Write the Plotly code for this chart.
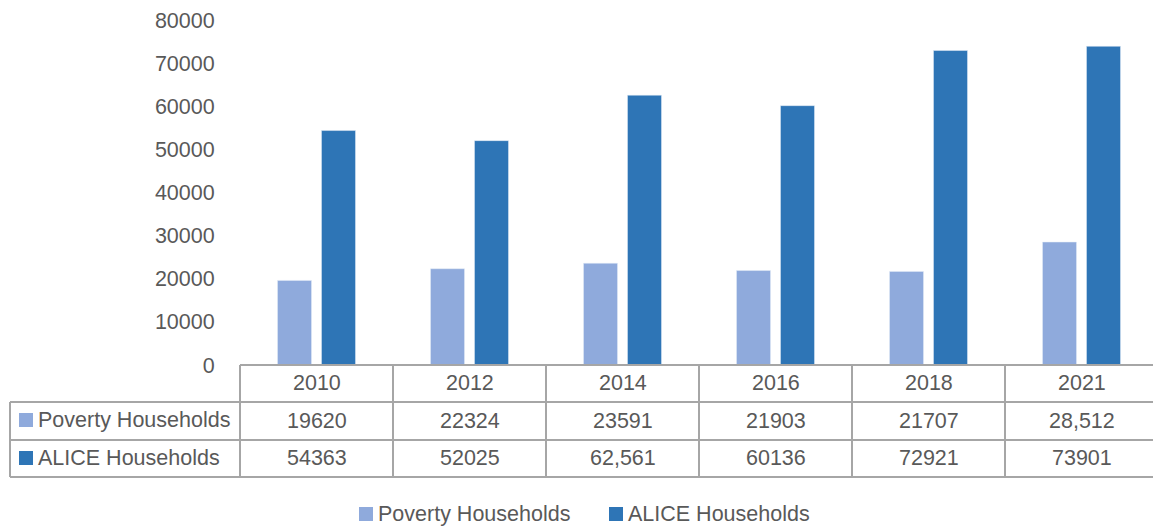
import plotly.graph_objects as go

years = ["2010", "2012", "2014", "2016", "2018", "2021"]
poverty = [19620, 22324, 23591, 21903, 21707, 28512]
alice = [54363, 52025, 62561, 60136, 72921, 73901]
poverty_labels = ["19620", "22324", "23591", "21903", "21707", "28,512"]
alice_labels = ["54363", "52025", "62,561", "60136", "72921", "73901"]
series_names = ["Poverty Households", "ALICE Households"]
colors = ["#8FAADC", "#2E75B6"]

W, H = 1153, 527
L, R, T, B = 240, 0, 20, 162
PW = W - L - R
PH = H - T - B
COLW = 153.0

def xp(px):
    return (px - L) / PW

def yp(py):
    return (H - B - py) / PH

FONT = "Liberation Sans, Arial, sans-serif"
TXT = "#595959"
GRID = "#A6A6A6"
FS = 21.5

fig = go.Figure()
fig.add_trace(go.Bar(x=years, y=poverty, name=series_names[0], marker_color=colors[0], showlegend=False))
fig.add_trace(go.Bar(x=years, y=alice, name=series_names[1], marker_color=colors[1], showlegend=False))

shapes = []
annotations = []

def hline(x0, x1, y):
    shapes.append(dict(type="line", xref="paper", yref="paper", x0=xp(x0), x1=xp(x1),
                       y0=yp(y), y1=yp(y), line=dict(color=GRID, width=2)))

def vline(x, y0, y1):
    shapes.append(dict(type="line", xref="paper", yref="paper", x0=xp(x), x1=xp(x),
                       y0=yp(y0), y1=yp(y1), line=dict(color=GRID, width=2)))

right = L + COLW * len(years)
hline(L, right, 365)
hline(10, right, 402)
hline(10, right, 440)
hline(10, right, 477)
vline(10, 402, 477)
for i in range(len(years) + 1):
    vline(L + COLW * i, 365, 477)

row_y = [383, 421, 458]
for i, yr in enumerate(years):
    for row, txt in ((0, yr), (1, poverty_labels[i]), (2, alice_labels[i])):
        annotations.append(dict(xref="x", yref="paper", x=i, y=yp(row_y[row]), text=txt,
                                showarrow=False, xanchor="center", yanchor="middle",
                                font=dict(family=FONT, size=FS, color=TXT)))

def swatch(x0, y0, color):
    shapes.append(dict(type="rect", xref="paper", yref="paper", x0=xp(x0), x1=xp(x0 + 14),
                       y0=yp(y0), y1=yp(y0 + 14), fillcolor=color, line=dict(width=0)))

def label(x, y, text):
    annotations.append(dict(xref="paper", yref="paper", x=xp(x), y=yp(y), text=text,
                            showarrow=False, xanchor="left", yanchor="middle",
                            font=dict(family=FONT, size=FS, color=TXT)))

# Table row headers
swatch(19, 413, colors[0]); label(36, 420, series_names[0])
swatch(19, 451, colors[1]); label(36, 458, series_names[1])

# Bottom legend
swatch(359, 507, colors[0]); label(376, 514, series_names[0])
swatch(609, 507, colors[1]); label(626, 514, series_names[1])

fig.update_layout(
    width=W, height=H,
    margin=dict(l=L, r=R, t=T, b=B, pad=0),
    paper_bgcolor="white", plot_bgcolor="white",
    barmode="group", bargap=0.425, bargroupgap=0.227,
    xaxis=dict(type="category", range=[-0.5, -0.5 + PW / COLW], showticklabels=False,
               showgrid=False, zeroline=False, showline=False, ticks=""),
    yaxis=dict(range=[0, 80000], tickvals=list(range(0, 80001, 10000)),
               tickformat="d", showgrid=False, zeroline=False, showline=False,
               ticks="outside", ticklen=20, tickcolor="rgba(0,0,0,0)",
               tickfont=dict(family=FONT, size=FS, color=TXT)),
    shapes=shapes, annotations=annotations,
    showlegend=False,
)

fig.write_html("out.html", config={"displayModeBar": False},
               post_script="document.body.style.margin='0';document.body.style.overflow='hidden';")
